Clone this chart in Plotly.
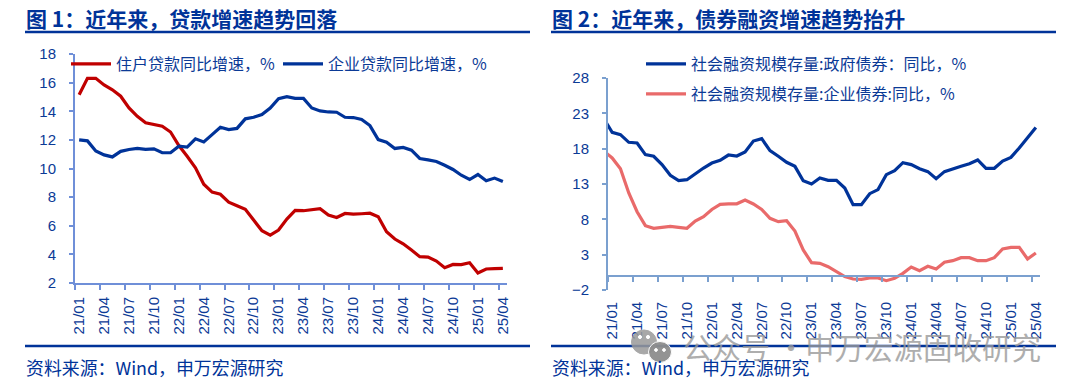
import plotly.graph_objects as go

months = [f"{y}/{m:02d}" for y in range(21, 26) for m in range(1, 13)][:52]
pre_month = "20/12"

household = [15.16,16.3,16.3,15.84,15.5,15.05,14.23,13.65,13.2,13.1,12.95,12.55,11.6,10.85,10.05,8.9,8.35,8.2,7.65,7.4,7.15,6.4,5.65,5.35,5.7,6.47,7.07,7.05,7.14,7.19,6.75,6.58,6.86,6.81,6.84,6.88,6.63,5.58,5.07,4.74,4.3,3.84,3.81,3.53,3.07,3.3,3.28,3.42,2.7,2.98,3.0,3.02]
corporate = [12.0,11.93,11.23,10.95,10.81,11.2,11.33,11.4,11.33,11.37,11.1,11.1,11.56,11.5,12.07,11.86,12.37,12.88,12.72,12.8,13.47,13.58,13.77,14.23,14.88,15.02,14.9,14.9,14.23,14.02,13.95,13.93,13.58,13.56,13.42,13.0,12.02,11.84,11.4,11.47,11.28,10.7,10.6,10.49,10.23,9.93,9.53,9.23,9.58,9.14,9.33,9.09]
gov_bond = [22.25,20.31,19.98,18.9,18.8,17.15,16.92,15.74,14.23,13.47,13.61,14.46,15.26,15.97,16.35,17.1,16.96,17.53,19.08,19.42,17.72,16.92,16.07,15.5,13.47,13.0,13.85,13.52,13.52,12.43,10.08,10.08,11.63,12.2,14.32,14.89,16.02,15.74,15.17,14.75,13.75,14.75,15.17,15.5,15.88,16.4,15.22,15.22,16.25,16.77,18.09,19.5,21.0]
corp_bond = [17.67,16.68,15.17,11.73,9.08,7.1,6.73,6.82,7.0,6.87,6.73,7.76,8.38,9.4,10.12,10.2,10.2,10.74,10.17,9.4,8.14,7.67,7.81,6.35,3.66,1.87,1.77,1.3,0.6,-0.11,-0.44,-0.49,-0.3,-0.3,-0.68,-0.35,0.36,1.25,0.74,1.35,0.97,1.92,2.15,2.58,2.58,2.15,2.15,2.58,3.8,4.04,4.04,2.39,3.24]

W, H = 1075, 390
BLUE = "#003399"
TXT = "#0B3A96"
FONT = "Liberation Sans, Noto Sans CJK SC"
CJK = "Noto Sans CJK SC, Liberation Sans"
AX1 = "#6F8FD8"
AX2 = "#7BA0CF"

def px(x): return x / W
def py(y): return 1 - y / H

fig = go.Figure()
fig.add_trace(go.Scatter(x=months, y=household, name="住户贷款同比增速，%", mode="lines",
                         line=dict(color="#C00000", width=3.2), xaxis="x", yaxis="y", legend="legend"))
fig.add_trace(go.Scatter(x=months, y=corporate, name="企业贷款同比增速，%", mode="lines",
                         line=dict(color=BLUE, width=3.2), xaxis="x", yaxis="y", legend="legend"))
xs2 = [pre_month] + months
fig.add_trace(go.Scatter(x=xs2, y=gov_bond, name="社会融资规模存量:政府债券：同比，%", mode="lines",
                         line=dict(color=BLUE, width=3.2), xaxis="x2", yaxis="y2", legend="legend2"))
fig.add_trace(go.Scatter(x=xs2, y=corp_bond, name="社会融资规模存量:企业债券:同比，%", mode="lines",
                         line=dict(color="#E96A6A", width=3.2), xaxis="x2", yaxis="y2", legend="legend3"))

def xax(domain, rng, tick0, color, **kw):
    return dict(type="category", domain=domain, range=rng, tick0=tick0, dtick=3, tickson="boundaries",
                showgrid=False, zeroline=False, showline=True, linecolor=color, linewidth=2,
                ticks="outside", ticklen=5, tickwidth=2, tickcolor=color, tickangle=-90,
                tickfont=dict(family=FONT, size=15, color=TXT), **kw)

def yax(domain, rng, dtick, color):
    return dict(domain=domain, range=rng, tick0=rng[0], dtick=dtick, showgrid=False, zeroline=False,
                showline=True, linecolor=color, linewidth=2, ticks="outside", ticklen=4, tickwidth=2,
                tickcolor=color, tickfont=dict(family=FONT, size=15, color=TXT), ticklabelstandoff=10)

shapes = []
for x0, x1 in ((25, 530), (551, 1056)):
    for y in (32, 346):
        shapes.append(dict(type="line", xref="paper", yref="paper", x0=px(x0), x1=px(x1), y0=py(y), y1=py(y),
                           line=dict(color=BLUE, width=2.6), layer="below"))
# watermark logo: two bubbles with eyes
def ellipse(cx, cy, rx, ry, fill, line=None, opacity=1):
    shapes.append(dict(type="circle", xref="paper", yref="paper", x0=px(cx-rx), x1=px(cx+rx), y0=py(cy-ry), y1=py(cy+ry),
                       fillcolor=fill, opacity=opacity, line=dict(color=line or fill, width=1)))
ellipse(644, 342, 12.5, 12, "#9A9A9A", opacity=0.85)
ellipse(660, 352, 11.5, 10.5, "#8E8E8E", line="white", opacity=0.95)
for ex, ey, er in ((640, 337, 1.6), (648, 337, 1.6), (656, 350, 1.4), (664, 350, 1.4)):
    ellipse(ex, ey, er, er, "white")

anns = []
def text(x, y, s, size, color=BLUE, bold=False, opacity=None, family=CJK):
    anns.append(dict(xref="paper", yref="paper", x=px(x), y=py(y), text=f"<b>{s}</b>" if bold else s, showarrow=False,
                     xanchor="left", yanchor="middle", font=dict(family=family, size=size, color=color),
                     opacity=opacity if opacity else 1))
text(24, 18, "图 1：近年来，贷款增速趋势回落", 21, bold=True)
text(550, 18, "图 2：近年来，债券融资增速趋势抬升", 21, bold=True)
text(24, 367, "资料来源：Wind，申万宏源研究", 17.9)
text(550, 367, "资料来源：Wind，申万宏源研究", 17.9)
text(681, 346, "公众号 ·", 29, color="#9A9A9A", opacity=0.8)
text(803, 346, "申万宏源固收研究", 29.5, color="#9A9A9A", opacity=0.8)

def leg(x, y, **kw):
    return dict(x=px(x), y=py(y), xanchor="left", yanchor="middle", itemwidth=40, bgcolor="rgba(0,0,0,0)",
                font=dict(family=CJK, size=16, color=TXT), itemclick=False, **kw)

fig.update_layout(
    width=W, height=H, margin=dict(l=0, r=0, t=0, b=0, autoexpand=False), paper_bgcolor="white", plot_bgcolor="rgba(0,0,0,0)",
    xaxis=xax([px(75), px(507)], [-0.5, 51.5], 0, AX1, anchor="y", ticklabelstandoff=6),
    yaxis=yax([py(283), py(54)], [2, 18], 2, AX1) | dict(anchor="x"),
    xaxis2=xax([px(608), px(1040)], [0.5, 52.5], 1, AX2, anchor="free", position=py(275.9), ticklabelstandoff=19),
    yaxis2=yax([py(290), py(78)], [-2, 28], 5, AX2) | dict(anchor="x2"),
    shapes=shapes, annotations=anns,
    legend=leg(66, 64, orientation="h", entrywidth=157, entrywidthmode="pixels"),
    legend2=leg(641, 64, orientation="v"),
    legend3=leg(641, 94, orientation="v"),
    showlegend=True,
)
fig.write_html("out.html", post_script="document.body.style.margin='0';", config={"displayModeBar": False})
